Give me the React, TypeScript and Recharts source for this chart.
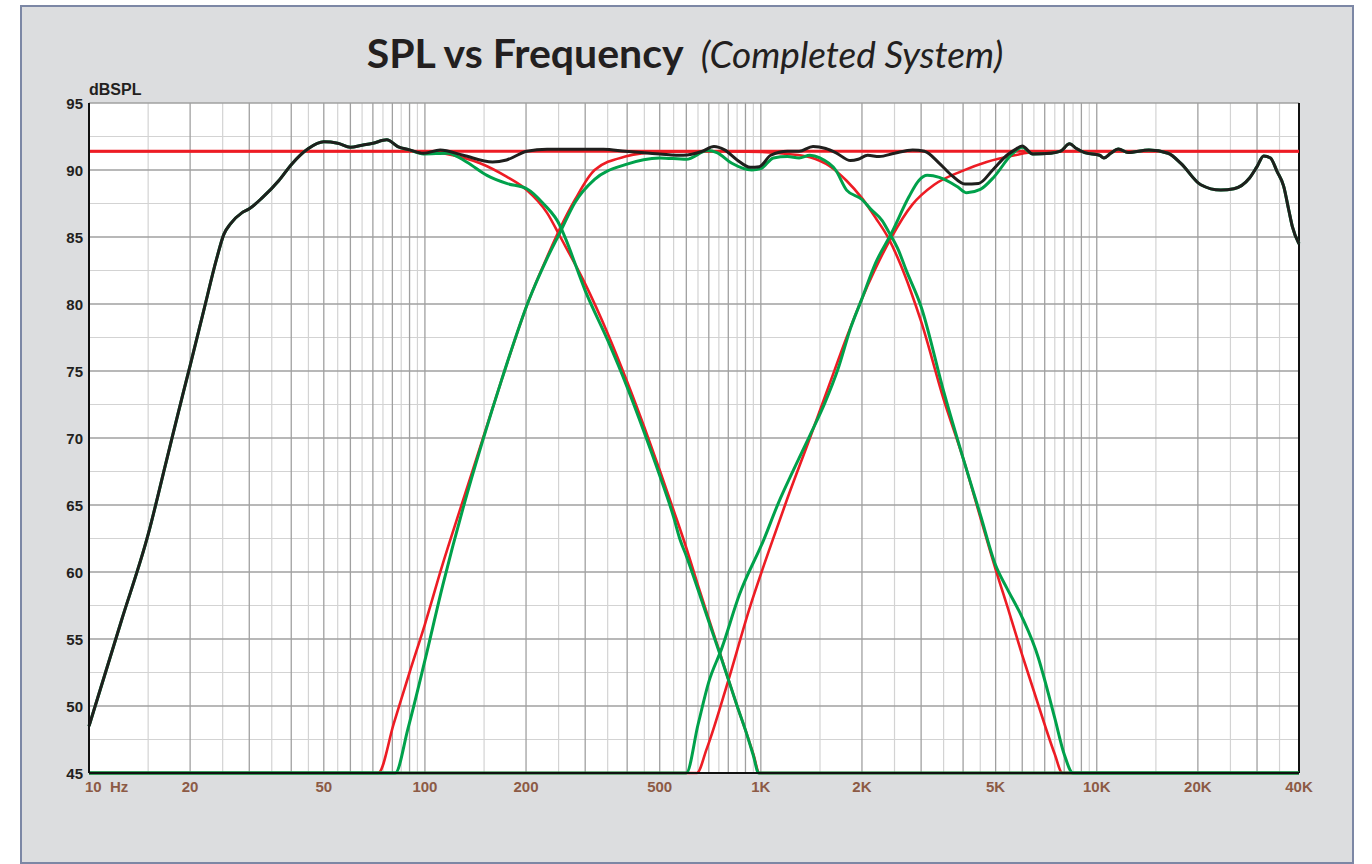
import { CartesianGrid, Line, LineChart, XAxis, YAxis } from "recharts";

type Pt = [number, number];

// axis ticks
const FREQ_TICKS = [10, 20, 50, 100, 200, 500, 1000, 2000, 5000, 10000, 20000, 40000];
const FREQ_LABELS = ["10  Hz", "20", "50", "100", "200", "500", "1K", "2K", "5K", "10K", "20K", "40K"];
const DB_TICKS = [45, 50, 55, 60, 65, 70, 75, 80, 85, 90, 95];
const DB_MINOR = [47.5, 52.5, 57.5, 62.5, 67.5, 72.5, 77.5, 82.5, 87.5, 92.5];

// log grid: lines every 1x and half steps of each decade
const DECADES = [10, 100, 1000, 10000];
const MAJOR_MULT = [1, 2, 3, 4, 5, 6, 7, 8, 9];
const MINOR_MULT = [1.5, 2.5, 3.5, 4.5, 5.5, 6.5, 7.5, 8.5, 9.5];

const TARGET_LEVEL: Pt[] = [[10, 91.4], [40000, 91.4]];

// complete system (black)
const systemSpl: Pt[] = [
  [10, 48.5], [12.5, 56.4], [15, 62.8], [17, 68.3], [19, 73.2], [20, 75.4], [22, 79.6],
  [24, 83.4], [25.2, 85.2], [26.4, 86.0], [28.5, 86.8], [30, 87.1], [32.7, 87.9], [36.7, 89.2],
  [40, 90.4], [45, 91.6], [50, 92.1], [55, 92.0], [60, 91.7], [65, 91.85], [70, 92.0], [77, 92.25],
  [83, 91.75], [90, 91.5], [99, 91.25], [111, 91.5], [130, 91.1], [159, 90.6], [175, 90.75],
  [201, 91.4], [231, 91.55], [288, 91.55], [340, 91.55], [395, 91.4], [500, 91.2], [588, 91.1],
  [670, 91.4], [725, 91.75], [780, 91.5], [850, 90.75], [930, 90.2], [990, 90.25], [1070, 91.1],
  [1200, 91.4], [1300, 91.4], [1430, 91.75], [1560, 91.6], [1670, 91.3], [1850, 90.7], [1950, 90.8],
  [2080, 91.1], [2250, 91.0], [2500, 91.25], [2830, 91.5], [3070, 91.4], [3400, 90.5], [3700, 89.6],
  [4050, 88.95], [4450, 89.0], [4900, 90.0], [5400, 91.1], [5700, 91.5], [6000, 91.8], [6450, 91.2],
  [7300, 91.25], [7800, 91.4], [8300, 91.95], [8700, 91.6], [9200, 91.3], [10200, 91.1],
  [10500, 90.9], [11000, 91.25], [11600, 91.57], [12400, 91.3], [14300, 91.5], [16300, 91.25],
  [17800, 90.5], [20400, 88.9], [23400, 88.5], [25600, 88.6], [28500, 89.4], [30000, 90.25],
  [31400, 91.05], [32900, 90.9], [34400, 89.9], [36000, 88.8], [37300, 87.0], [38200, 85.8],
  [40000, 84.5],
];

// red targets
const wooferTarget: Pt[] = [
  [10, 91.4], [100, 91.4], [121, 91.1], [146, 90.5], [175, 89.5], [201, 88.5], [231, 86.8],
  [253, 85.0], [300, 81.5], [350, 77.8], [400, 74.2], [450, 70.8], [500, 67.6], [550, 64.6],
  [600, 61.8], [650, 59.0], [700, 56.5], [750, 54.2], [800, 52.0], [850, 50.0], [900, 48.2],
  [950, 46.4], [990, 45], [40000, 45],
];
const midTarget: Pt[] = [
  [10, 45], [72.6, 45], [80.8, 48.7], [90, 52.5], [100, 56.1], [113, 60.6], [127, 64.6],
  [149, 70.0], [169, 74.3], [204, 80.3], [230, 83.4], [252, 85.6], [280, 87.8], [320, 90.0],
  [395, 91.0], [500, 91.35], [700, 91.4], [1000, 91.35], [1200, 91.2], [1400, 90.95],
  [1600, 90.3], [1800, 89.2], [2000, 87.9], [2200, 86.4], [2400, 84.9], [2600, 83.0],
  [2800, 80.9], [3000, 78.7], [3500, 72.9], [4000, 68.5], [4500, 64.1], [5000, 60.2],
  [5500, 56.9], [6000, 53.8], [6500, 51.1], [7000, 48.6], [7500, 46.4], [7900, 45], [40000, 45],
];
const tweeterTarget: Pt[] = [
  [10, 45], [645, 45], [690, 46.8], [800, 51.9], [923, 57.2], [1085, 62.4], [1200, 65.5],
  [1400, 70.0], [1600, 74.0], [1800, 77.5], [2000, 80.4], [2180, 82.5], [2450, 85.0],
  [2820, 87.4], [3280, 88.9], [3950, 89.9], [4700, 90.6], [5700, 91.1], [6500, 91.35],
  [8000, 91.4], [40000, 91.4],
];

// green measured drivers
const wooferUpper: Pt[] = [
  [99, 91.2], [117, 91.25], [133, 90.6], [153, 89.6], [175, 89.0], [201, 88.6], [225, 87.5],
  [253, 85.8], [263, 84.8], [300, 81.0], [350, 77.3], [400, 73.8], [450, 70.4], [500, 67.2],
  [550, 64.1], [575, 62.4], [600, 61.2], [650, 58.7], [700, 56.3], [750, 54.1], [800, 52.0],
  [850, 50.0], [900, 48.2], [950, 46.3], [985, 45], [40000, 45],
];
const midMeasured: Pt[] = [
  [10, 45], [81.6, 45], [89, 48.3], [100, 53.4], [113, 59.0], [130, 64.8], [149, 69.9],
  [169, 74.3], [204, 80.3], [230, 83.3], [252, 85.3], [280, 87.6], [320, 89.3], [395, 90.4],
  [500, 90.9], [600, 90.8], [695, 91.45], [740, 91.3], [820, 90.5], [940, 90.0], [1000, 90.1],
  [1090, 90.9], [1200, 91.0], [1300, 90.9], [1400, 91.1], [1500, 90.9], [1670, 90.0],
  [1800, 88.5], [2000, 87.8], [2120, 87.1], [2300, 86.2], [2400, 85.4], [2570, 84.0],
  [2700, 82.6], [3000, 79.8], [3500, 73.5], [4000, 68.5], [4500, 64.3], [5000, 60.5],
  [5400, 58.8], [6000, 56.6], [6700, 53.6], [6900, 52.5], [7500, 49.1], [8000, 46.4],
  [8500, 45], [40000, 45],
];
const tweeterLower: Pt[] = [
  [10, 45], [600, 45], [650, 48.6], [700, 51.8], [765, 54.3], [863, 58.3], [1020, 62.4],
  [1130, 65.2], [1250, 67.6], [1400, 70.2], [1550, 72.6], [1700, 75.2], [1850, 78.2],
  [2000, 80.4], [2200, 83.1], [2450, 85.3], [2760, 88.0], [2950, 89.2], [3130, 89.6],
  [3400, 89.45], [3850, 88.75], [4100, 88.3], [4500, 88.55], [4950, 89.5], [5600, 91.2],
  [6000, 91.7], [6450, 91.2],
];

const toRows = (pts: Pt[]) => pts.map(([f, db]) => ({ f, db }));

// woofer below ~90 Hz and tweeter above ~7 kHz sit right under the system curve
const wooferMeasured = [...systemSpl.filter(([f]) => f <= 90), ...wooferUpper];
const tweeterMeasured = [...tweeterLower, ...systemSpl.filter(([f]) => f >= 7000)];

const majorFreqs = DECADES.flatMap((d) => MAJOR_MULT.map((m) => d * m)).filter((v) => v <= 40000);
const minorFreqs = DECADES.flatMap((d) => MINOR_MULT.map((m) => d * m)).filter((v) => v < 40000);

const RED = "#ed1c24";
const GREEN = "#00a14b";
const BLACK = "#1f1f1d";
const LABEL_FONT = "'Liberation Sans', Arial, sans-serif";

function FreqTick({ x, payload }: any) {
  const i = FREQ_TICKS.indexOf(payload.value);
  const first = i === 0;
  return (
    <text
      x={first ? x - 4 : x}
      y={792}
      textAnchor={first ? "start" : "middle"}
      fill="#8c5a45"
      fontFamily={LABEL_FONT}
      fontWeight="bold"
      fontSize={15}
      style={{ whiteSpace: "pre" }}
    >
      {FREQ_LABELS[i] ?? ""}
    </text>
  );
}

function DbTick({ y, payload }: any) {
  return (
    <text x={83} y={y} dy={5.5} textAnchor="end" fill="#231f20" fontFamily={LABEL_FONT} fontWeight="bold" fontSize={15}>
      {payload.value}
    </text>
  );
}

export default function App() {
  const curve = (pts: Pt[], color: string, width: number, key: string) => (
    <Line
      key={key}
      data={toRows(pts)}
      dataKey="db"
      type="monotone"
      stroke={color}
      strokeWidth={width}
      dot={false}
      activeDot={false}
      isAnimationActive={false}
    />
  );

  return (
    <div style={{ position: "absolute", left: 0, top: 0, width: 1372, height: 864, overflow: "hidden" }}>
      <div
        style={{
          position: "absolute",
          left: 20,
          top: 5,
          width: 1330,
          height: 855,
          background: "#dcdddf",
          border: "2px solid #7c87a5",
        }}
      />
      <svg width={1372} height={110} style={{ position: "absolute", left: 0, top: 0 }}>
        <text x={685} y={68} textAnchor="middle" fill="#231f20" fontFamily="Lato, 'Open Sans', sans-serif">
          <tspan fontWeight="bold" fontSize={41}>SPL vs Frequency</tspan>
          <tspan dx={17} fontStyle="italic" fontSize={37}>(Completed System)</tspan>
        </text>
        <text x={89} y={95} fill="#231f20" fontFamily={LABEL_FONT} fontWeight="bold" fontSize={16}>
          dBSPL
        </text>
      </svg>
      <div style={{ position: "absolute", left: 0, top: 0 }}>
        <LineChart width={1372} height={864} margin={{ top: 103, right: 73, left: 29, bottom: 61 }}>
          <CartesianGrid
            verticalValues={minorFreqs}
            horizontalValues={DB_MINOR}
            stroke="#d3d3d3"
            strokeWidth={1.2}
            fill="#ffffff"
            fillOpacity={1}
          />
          <CartesianGrid verticalValues={majorFreqs} horizontalValues={DB_TICKS} stroke="#a0a0a0" strokeWidth={1.3} />
          <CartesianGrid verticalValues={[10, 40000]} horizontal={false} stroke="#111111" strokeWidth={2} />
          <XAxis
            dataKey="f"
            type="number"
            scale="log"
            domain={[10, 40000]}
            ticks={FREQ_TICKS}
            interval={0}
            tick={<FreqTick />}
            tickLine={false}
            axisLine={{ stroke: "#111111", strokeWidth: 2 }}
            height={30}
          />
          <YAxis
            type="number"
            domain={[45, 95]}
            ticks={DB_TICKS}
            interval={0}
            tick={<DbTick />}
            tickLine={false}
            axisLine={{ stroke: "#111111", strokeWidth: 2 }}
            width={60}
          />
          {curve(TARGET_LEVEL, RED, 3, "target")}
          {curve(wooferTarget, RED, 2.6, "wooferTarget")}
          {curve(midTarget, RED, 2.6, "midTarget")}
          {curve(tweeterTarget, RED, 2.6, "tweeterTarget")}
          {curve(wooferMeasured, GREEN, 3, "wooferMeasured")}
          {curve(midMeasured, GREEN, 3, "midMeasured")}
          {curve(tweeterMeasured, GREEN, 3, "tweeterMeasured")}
          {curve(systemSpl, BLACK, 3, "system")}
        </LineChart>
      </div>
    </div>
  );
}
